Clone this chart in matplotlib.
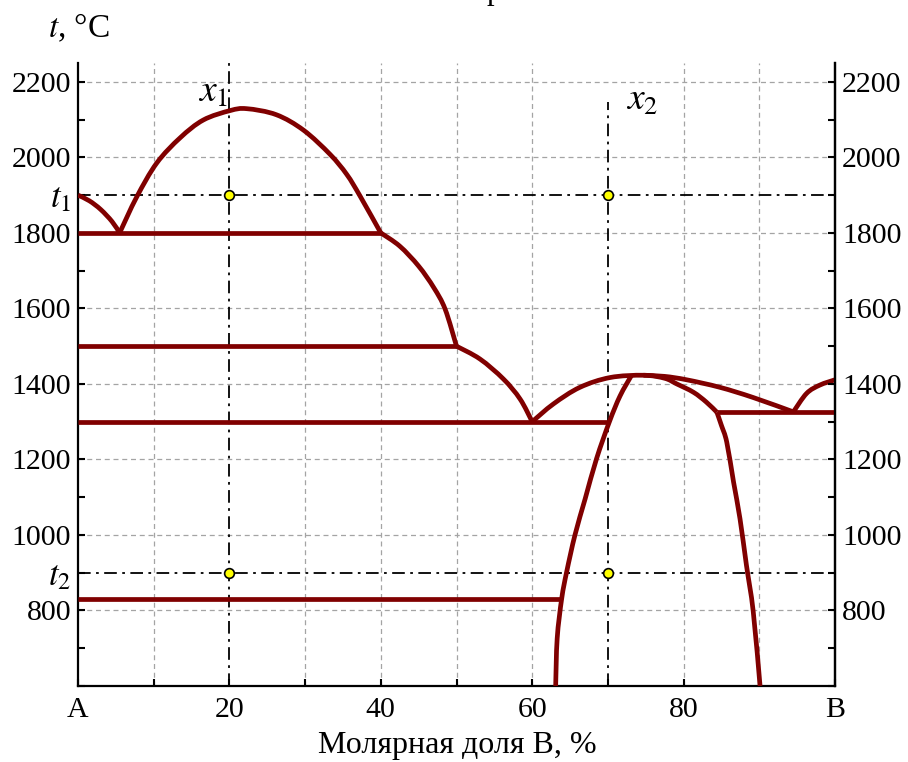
import matplotlib
matplotlib.use("Agg")
import matplotlib.pyplot as plt
from matplotlib.path import Path
from matplotlib.patches import PathPatch

plt.rcParams["font.family"] = ["Liberation Serif", "DejaVu Serif"]
plt.rcParams["mathtext.fontset"] = "stix"

# ---- phase diagram data: composition (mol % B) and temperature (°C) ----
liqA_x = [0, 1.5, 3.0, 4.5, 5.5]
liqA_t = [1900, 1885, 1862, 1830, 1800]

dome1_x = [5.5, 7.75, 10.4, 13.5, 16.55, 20.1, 22.3, 26.2, 29.8, 33.3, 35.5, 37.25, 40]
dome1_t = [1800, 1895, 1985, 2052, 2099, 2124, 2129, 2113, 2072, 2008, 1955, 1898, 1800]

liq40_x = [40, 42.5, 45.0, 47.0, 48.5, 50]
liq40_t = [1800, 1765, 1712, 1655, 1598, 1500]

liq50_x = [50, 53.1, 56.2, 58.4, 60]
liq50_t = [1500, 1466, 1413, 1360, 1300]

dome2_x = [60, 62.8, 66.3, 70.3, 74.7, 77.5, 79.1, 81.3, 83.0, 84.4]
dome2_t = [1300, 1347, 1391, 1417, 1423, 1415, 1400, 1378, 1352, 1325]

upper_x = [74.7, 77.5, 80.4, 84.8, 89.2, 94.5]
upper_t = [1423, 1420, 1411, 1391, 1364, 1326]

liqB_x = [94.5, 96.25, 98.0, 100]
liqB_t = [1326, 1375, 1397, 1411]

solvL_x = [73.1, 71.6, 70.2, 68.5, 67.0, 65.65, 64.55, 63.9, 63.3, 63.1]
solvL_t = [1422, 1368, 1300, 1202, 1096, 1000, 902, 832, 726, 600]

solvR_x = [84.4, 85.0, 85.7, 86.6, 87.45, 88.3, 89.2, 90.1]
solvR_t = [1325, 1290, 1246, 1140, 1043, 920, 797, 600]

# horizontal invariant lines: temperature, start, end
iso_t = [1800, 1500, 1300, 830, 1325]
iso_x0 = [0, 0, 0, 0, 84.4]
iso_x1 = [40, 50, 70.2, 63.9, 100]

# section lines and reference points
sect_x = [20, 70]
sect_top = [2250, 2147]
level_t = [1900, 900]

# axis ticks and labels
xticks = list(range(0, 101, 10))
xlabels = ["A", "", "20", "", "40", "", "60", "", "80", "", "B"]
yticks = list(range(600, 2201, 100))
ylabels_left = ["", "", "800", r"$t_2$", "1000", "", "1200", "", "1400", "",
                "1600", "", "1800", r"$t_1$", "2000", "", "2200"]
ylabels_right = ["", "", "800", "", "1000", "", "1200", "", "1400", "",
                 "1600", "", "1800", "", "2000", "", "2200"]
xgrid = [10, 30, 40, 50, 60, 80, 90]
ygrid = [800, 1000, 1200, 1400, 1600, 1800, 2000, 2200]

CURVE = "#800000"
GRID = "#a4a4a4"
FS = 21.5
LW = 3.4


def smooth_path(ax, xs, ts):
    """Smooth curve through the given points (Catmull-Rom drawn as Bezier
    segments in display space so the axis scaling does not distort it)."""
    pts = ax.transData.transform(list(zip(xs, ts)))
    n = len(pts)
    verts = [tuple(pts[0])]
    codes = [Path.MOVETO]
    for i in range(n - 1):
        p0 = pts[i - 1] if i > 0 else pts[i]
        p1 = pts[i]
        p2 = pts[i + 1]
        p3 = pts[i + 2] if i + 2 < n else pts[i + 1]
        c1 = p1 + (p2 - p0) / 6.0
        c2 = p2 - (p3 - p1) / 6.0
        verts += [tuple(c1), tuple(c2), tuple(p2)]
        codes += [Path.CURVE4] * 3
    inv = ax.transData.inverted()
    verts = inv.transform(verts)
    return Path(verts, codes)


fig = plt.figure(figsize=(9.08, 7.62), dpi=100)
ax = fig.add_axes([78 / 908, 1 - 686 / 762, (835 - 78) / 908, (686 - 63) / 762])
ax.set_xlim(0, 100)
ax.set_ylim(600, 2250)

# dashed grid
for gx in xgrid:
    ax.axvline(gx, color=GRID, lw=0.9, ls=(0, (4, 3)), zorder=1)
for gy in ygrid:
    ax.axhline(gy, color=GRID, lw=0.9, ls=(0, (4, 3)), zorder=1)

# dash-dot section lines
dashdot = (0, (7, 3, 1.5, 3))
for sx, top in zip(sect_x, sect_top):
    ax.plot([sx, sx], [600, top], color="black", lw=1.3, ls=dashdot, zorder=2)
for lt in level_t:
    ax.axhline(lt, color="black", lw=1.3, ls=dashdot, zorder=2)

# phase boundaries
curves = [(liqA_x, liqA_t), (dome1_x, dome1_t), (liq40_x, liq40_t),
          (liq50_x, liq50_t), (dome2_x, dome2_t), (upper_x, upper_t),
          (liqB_x, liqB_t), (solvL_x, solvL_t), (solvR_x, solvR_t)]
for cx, ct in curves:
    patch = PathPatch(smooth_path(ax, cx, ct), facecolor="none", edgecolor=CURVE,
                      lw=LW, capstyle="butt", joinstyle="round", zorder=3)
    ax.add_patch(patch)
for t, x0, x1 in zip(iso_t, iso_x0, iso_x1):
    ax.plot([x0, x1], [t, t], color=CURVE, lw=LW, solid_capstyle="butt", zorder=3)

# figurative points
for sx in sect_x:
    for lt in level_t:
        ax.plot(sx, lt, "o", ms=7, mfc="#ffff00", mec="black", mew=1.2, zorder=5)

ax.text(15.85, 2147, r"$x_1$", fontsize=27, ha="left", va="baseline", zorder=6)
ax.text(72.4, 2125, r"$x_2$", fontsize=27, ha="left", va="baseline", zorder=6)

# spines and ticks
ax.spines["top"].set_visible(False)
for s in ("left", "right", "bottom"):
    ax.spines[s].set_linewidth(1.6)
ax.set_xticks(xticks)
ax.set_xticklabels(xlabels, fontsize=FS)
ax.set_yticks(yticks)
ax.set_yticklabels(ylabels_left, fontsize=FS)
for lab in ax.get_yticklabels():
    if lab.get_text().startswith("$"):
        lab.set_fontsize(25)
ax.tick_params(axis="both", direction="in", length=5, width=1.5)
ax.tick_params(axis="x", pad=8)
ax.tick_params(axis="y", pad=5)

axr = ax.twinx()
axr.set_ylim(ax.get_ylim())
axr.set_yticks(yticks)
axr.set_yticklabels(ylabels_right, fontsize=FS)
axr.tick_params(axis="y", direction="in", length=5, width=1.5, pad=5)
for s in ("top", "left", "bottom"):
    axr.spines[s].set_visible(False)
axr.spines["right"].set_linewidth(1.6)

fig.text(48 / 908, 1 - 37 / 762, r"$t$, °C", fontsize=24, ha="left", va="baseline")
fig.text(457 / 908, 1 - 745 / 762, "Молярная доля В, %", fontsize=23,
         ha="center", va="center")
fig.text(487 / 908, 1 + 1 / 762, "р", fontsize=22, ha="left", va="baseline")

fig.savefig("out.png", dpi=100)
